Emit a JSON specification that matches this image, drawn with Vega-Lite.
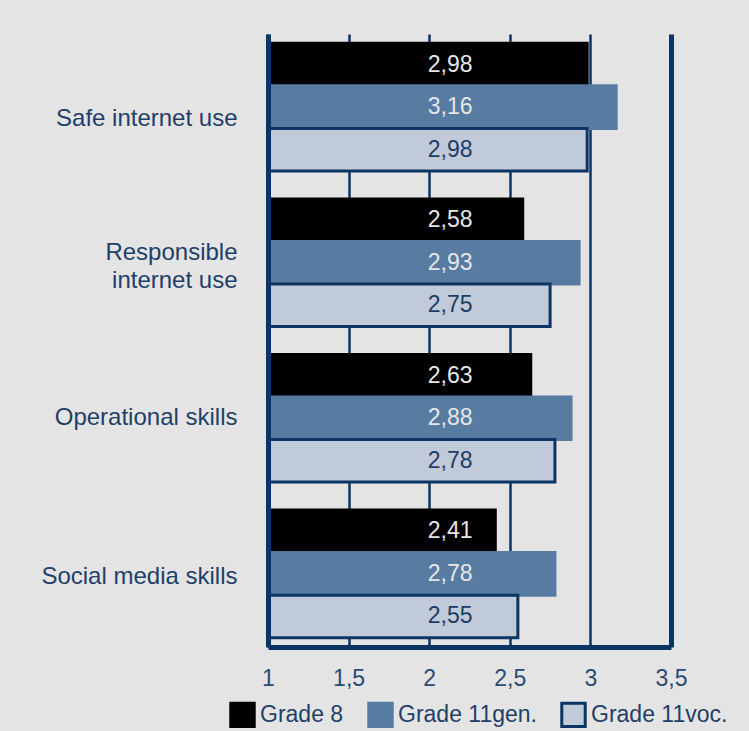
{
  "$schema": "https://vega.github.io/schema/vega-lite/v6.json",
  "width": 403,
  "height": 613,
  "autosize": {"type": "none"},
  "padding": {"left": 268, "top": 34, "right": 78, "bottom": 84},
  "background": "#e4e4e4",
  "config": {
    "locale": {"number": {"decimal": ",", "thousands": ".", "grouping": [3], "currency": ["", "€"]}},
    "view": {"stroke": null},
    "font": "Liberation Sans"
  },
  "data": {
    "values": [
      {"skill": "Safe internet use", "grade": "Grade 8", "value": 2.98},
      {"skill": "Safe internet use", "grade": "Grade 11gen.", "value": 3.16},
      {"skill": "Safe internet use", "grade": "Grade 11voc.", "value": 2.98},
      {"skill": "Responsible internet use", "grade": "Grade 8", "value": 2.58},
      {"skill": "Responsible internet use", "grade": "Grade 11gen.", "value": 2.93},
      {"skill": "Responsible internet use", "grade": "Grade 11voc.", "value": 2.75},
      {"skill": "Operational skills", "grade": "Grade 8", "value": 2.63},
      {"skill": "Operational skills", "grade": "Grade 11gen.", "value": 2.88},
      {"skill": "Operational skills", "grade": "Grade 11voc.", "value": 2.78},
      {"skill": "Social media skills", "grade": "Grade 8", "value": 2.41},
      {"skill": "Social media skills", "grade": "Grade 11gen.", "value": 2.78},
      {"skill": "Social media skills", "grade": "Grade 11voc.", "value": 2.55}
    ]
  },
  "encoding": {
    "y": {
      "field": "skill",
      "type": "nominal",
      "sort": ["Safe internet use", "Responsible internet use", "Operational skills", "Social media skills"],
      "scale": {"paddingInner": 0.18, "paddingOuter": 0.06},
      "axis": {
        "title": null,
        "zindex": 1,
        "domainColor": "#0a3564",
        "domainWidth": 5,
        "ticks": false,
        "grid": false,
        "labelFontSize": 24,
        "labelColor": "#1f3f69",
        "labelPadding": 31,
        "labelLineHeight": 28,
        "labelLimit": 300,
        "labelOffset": {
          "condition": [
            {"test": "datum.value == 'Safe internet use'", "value": 12},
            {"test": "datum.value == 'Responsible internet use'", "value": -10},
            {"test": "datum.value == 'Social media skills'", "value": 3}
          ],
          "value": 0
        },
        "labelExpr": "datum.label == 'Responsible internet use' ? ['Responsible', 'internet use'] : datum.label"
      }
    },
    "yOffset": {
      "field": "grade",
      "type": "nominal",
      "sort": ["Grade 8", "Grade 11gen.", "Grade 11voc."],
      "scale": {"paddingInner": 0, "paddingOuter": 0}
    }
  },
  "layer": [
    {
      "mark": {"type": "bar", "strokeWidth": 3},
      "encoding": {
        "x": {
          "field": "value",
          "type": "quantitative",
          "scale": {"domain": [1, 3.5], "zero": false, "nice": false},
          "axis": {
            "title": null,
            "values": [1, 1.5, 2, 2.5, 3, 3.5],
            "format": ".2~f",
            "domainColor": "#0a3564",
            "domainWidth": 5,
            "ticks": false,
            "grid": true,
            "gridColor": "#0a3564",
            "gridOpacity": 1,
            "gridWidth": {"condition": {"test": "datum.value == 3.5", "value": 5}, "value": 2.5},
            "labelFontSize": 23,
            "labelColor": "#2a4a72",
            "labelPadding": 20,
            "labelFlush": false
          }
        },
        "x2": {"datum": 1},
        "color": {
          "field": "grade",
          "type": "nominal",
          "sort": ["Grade 8", "Grade 11gen.", "Grade 11voc."],
          "scale": {"domain": ["Grade 8", "Grade 11gen.", "Grade 11voc."], "range": ["#000000", "#587ba2", "#c0cad9"]},
          "legend": {
            "orient": "none",
            "legendX": -39,
            "legendY": 667,
            "direction": "horizontal",
            "title": null,
            "symbolType": "square",
            "symbolSize": 550,
            "symbolStrokeWidth": 3,
            "symbolOpacity": 1,
            "labelFontSize": 23,
            "labelColor": "#1f3f69",
            "labelOffset": 4,
            "columnPadding": 18,
            "padding": 0
          }
        },
        "stroke": {
          "field": "grade",
          "type": "nominal",
          "sort": ["Grade 8", "Grade 11gen.", "Grade 11voc."],
          "scale": {"domain": ["Grade 8", "Grade 11gen.", "Grade 11voc."], "range": ["#000000", "#587ba2", "#0a3564"]},
          "legend": {
            "orient": "none",
            "legendX": -39,
            "legendY": 667,
            "direction": "horizontal",
            "title": null,
            "symbolType": "square",
            "symbolSize": 550,
            "symbolStrokeWidth": 3,
            "symbolOpacity": 1,
            "labelFontSize": 23,
            "labelColor": "#1f3f69",
            "labelOffset": 4,
            "columnPadding": 18,
            "padding": 0
          }
        }
      }
    },
    {
      "mark": {"type": "text", "fontSize": 23, "align": "center", "baseline": "middle"},
      "encoding": {
        "x": {"datum": 2.13},
        "text": {"field": "value", "type": "quantitative", "format": ".2f"},
        "color": {
          "condition": {"test": "datum.grade === 'Grade 11voc.'", "value": "#1e3d66"},
          "value": "#e6e6e6"
        }
      }
    }
  ]
}
